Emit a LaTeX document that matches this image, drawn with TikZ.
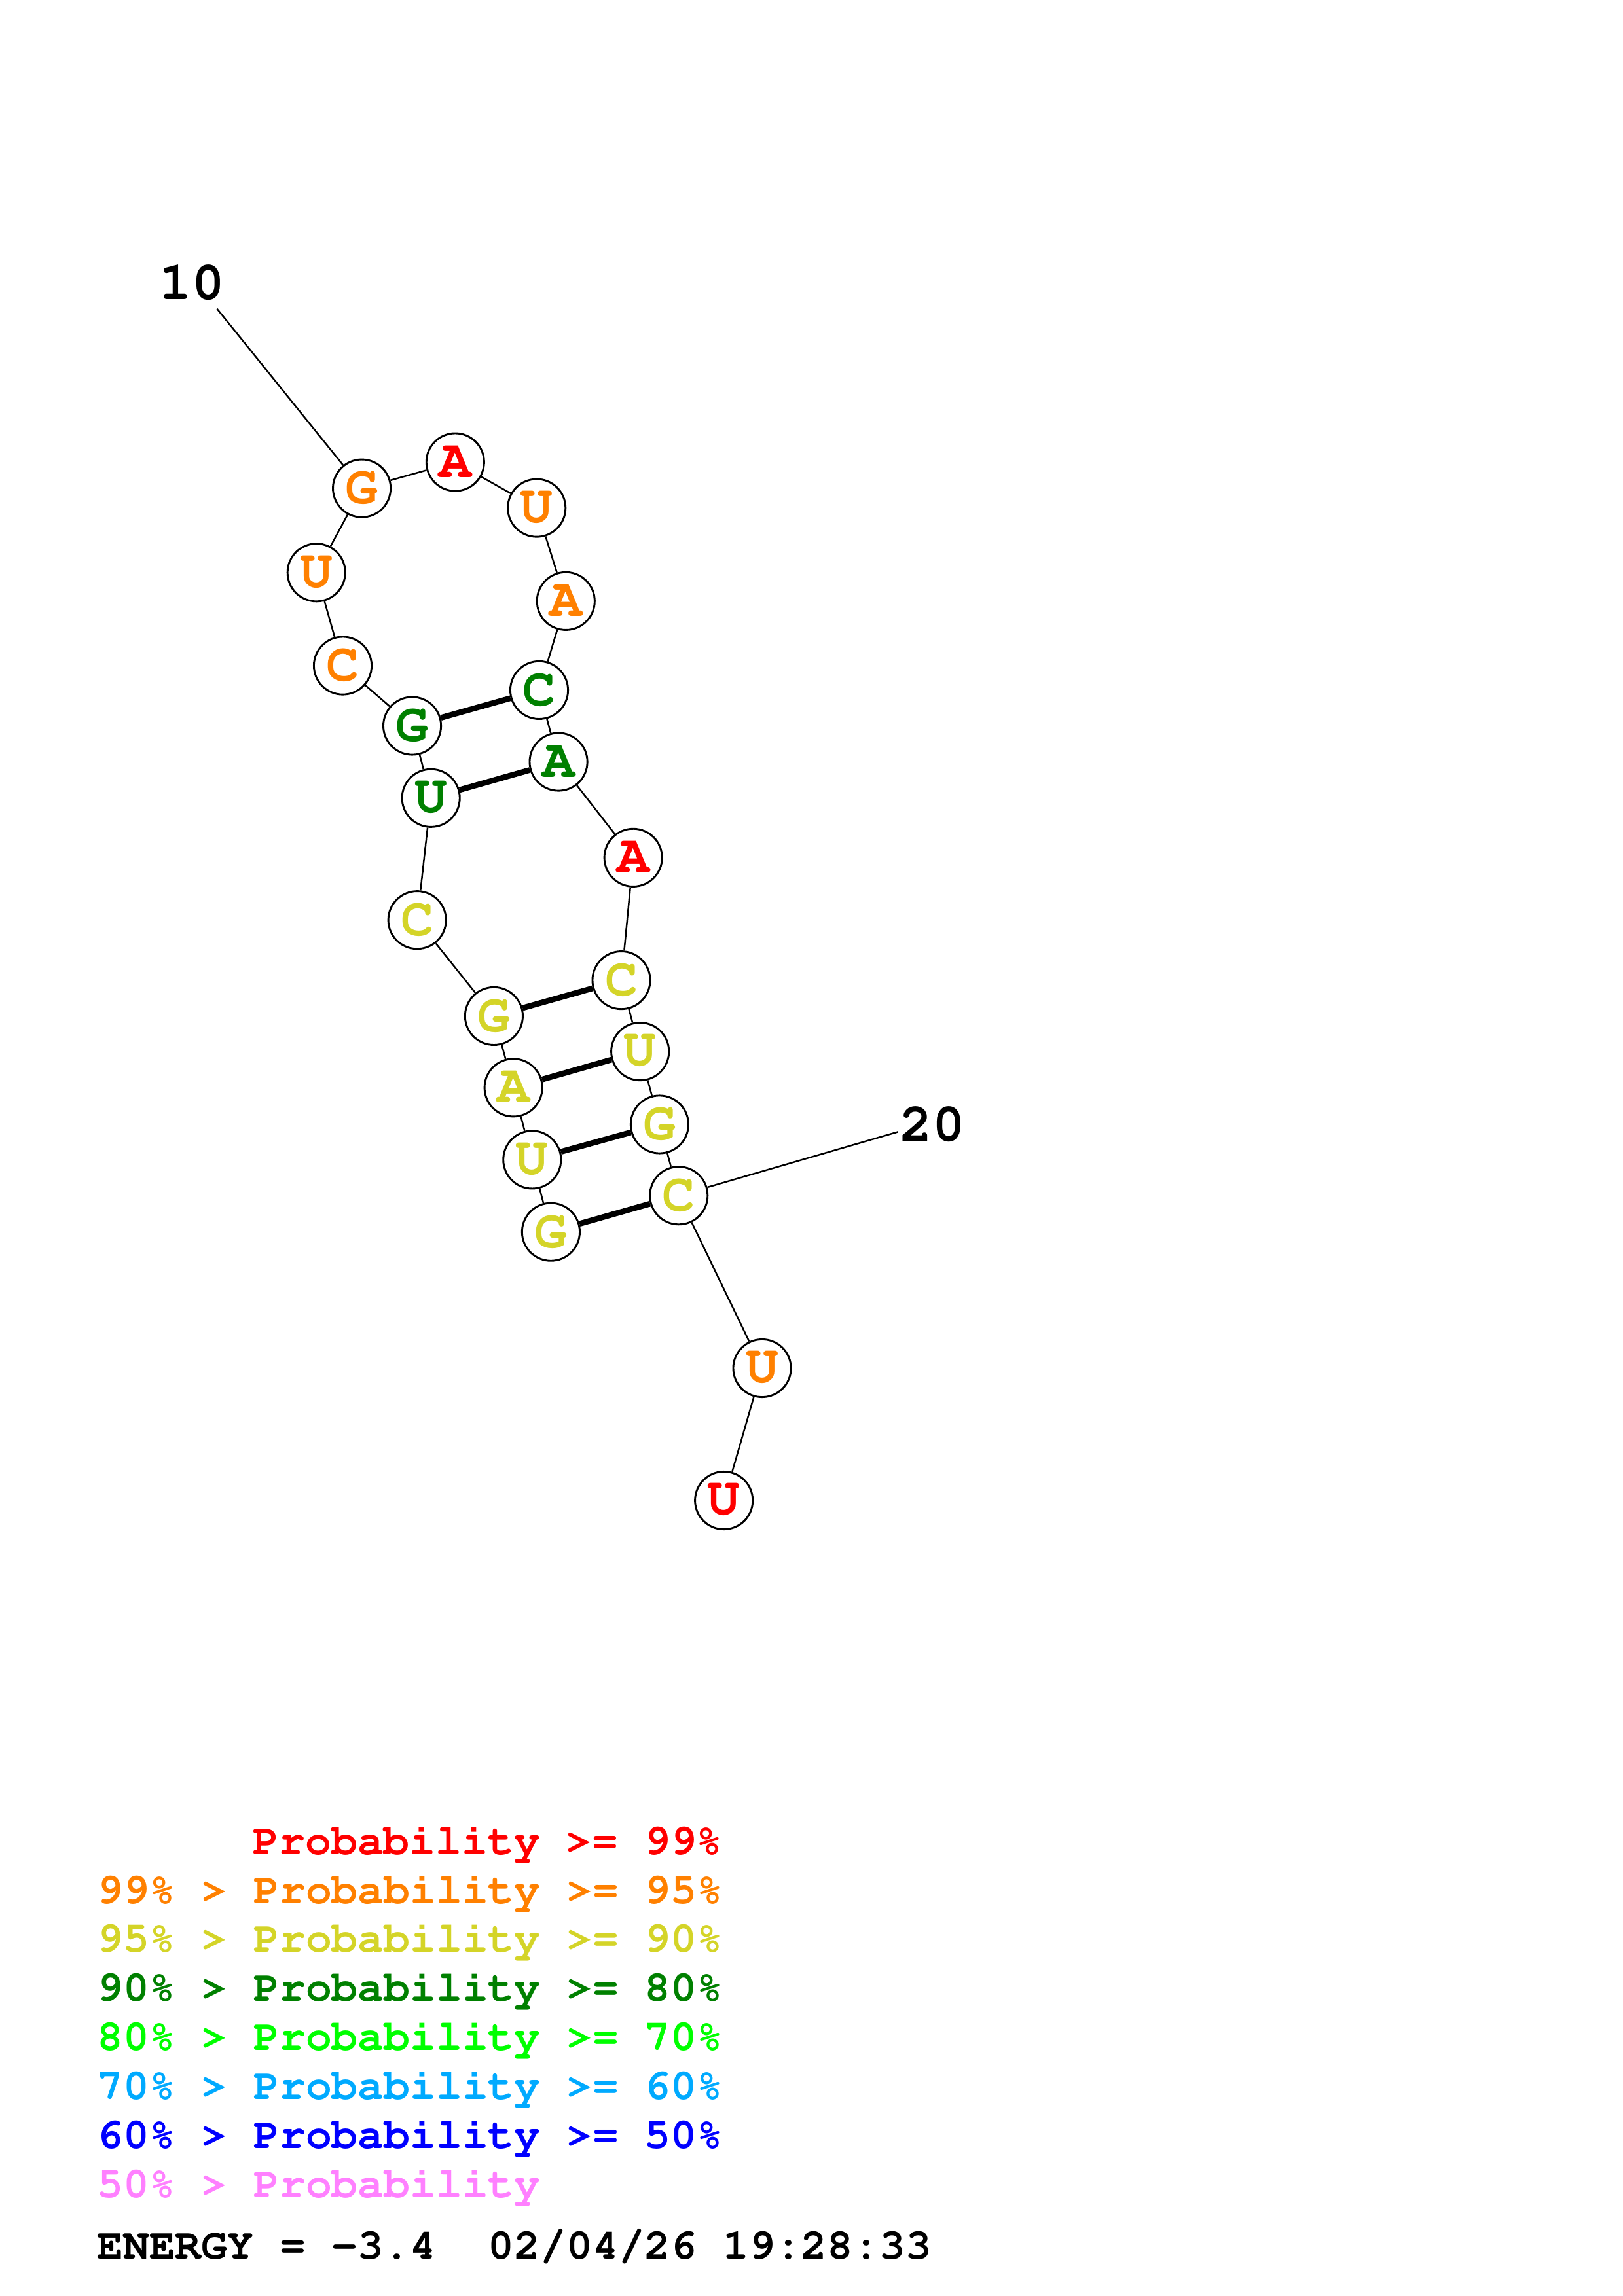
\documentclass[tikz,border=0pt]{standalone}
\usepackage{tikz}
\definecolor{prred}{RGB}{255,0,0}
\definecolor{prorange}{RGB}{255,128,0}
\definecolor{pryellow}{RGB}{212,212,40}
\definecolor{prdkgreen}{RGB}{0,128,0}
\definecolor{prgreen}{RGB}{0,255,0}
\definecolor{prblue}{RGB}{0,170,255}
\definecolor{prdkblue}{RGB}{0,0,255}
\definecolor{prpink}{RGB}{255,128,255}
\newcommand\nucfont{\fontencoding{T1}\fontfamily{pcr}\fontseries{b}\fontsize{20}{20}\selectfont}
\newcommand\legfont{\fontencoding{T1}\fontfamily{pcr}\fontseries{b}\fontsize{16}{16}\selectfont}

\begin{document}
\begin{tikzpicture}[x=0.18953mm,y=-0.18953mm,
  nuc/.style={circle,draw,line width=0.7pt,fill=white,minimum size=7.47mm,inner sep=0pt,font=\nucfont},
  backbone/.style={line width=0.6pt},
  pair/.style={line width=2.1pt},
  leg/.style={anchor=base west,inner sep=0pt,font=\legfont}]
\useasboundingbox (0,0) rectangle (1108,1568);
%nucleotides
\node[nuc,text=pryellow]  (n1)  at (376.1,841.3) {G};
\node[nuc,text=pryellow]  (n2)  at (363.3,792.0) {U};
\node[nuc,text=pryellow]  (n3)  at (350.5,742.8) {A};
\node[nuc,text=pryellow]  (n4)  at (337.2,693.9) {G};
\node[nuc,text=pryellow]  (n5)  at (284.8,628.3) {C};
\node[nuc,text=prdkgreen] (n6)  at (294.2,545.0) {U};
\node[nuc,text=prdkgreen] (n7)  at (281.4,495.7) {G};
\node[nuc,text=prorange]  (n8)  at (234.0,454.6) {C};
\node[nuc,text=prorange]  (n9)  at (216.0,391.0) {U};
\node[nuc,text=prorange]  (n10) at (247.0,333.5) {G};
\node[nuc,text=prred]     (n11) at (310.8,315.6) {A};
\node[nuc,text=prorange]  (n12) at (366.4,346.9) {U};
\node[nuc,text=prorange]  (n13) at (386.3,410.5) {A};
\node[nuc,text=prdkgreen] (n14) at (368.1,471.3) {C};
\node[nuc,text=prdkgreen] (n15) at (381.3,520.3) {A};
\node[nuc,text=prred]     (n16) at (432.3,585.7) {A};
\node[nuc,text=pryellow]  (n17) at (424.2,669.4) {C};
\node[nuc,text=pryellow]  (n18) at (437.0,718.1) {U};
\node[nuc,text=pryellow]  (n19) at (450.3,767.9) {G};
\node[nuc,text=pryellow]  (n20) at (463.4,816.5) {C};
\node[nuc,text=prorange]  (n21) at (520.3,934.4) {U};
\node[nuc,text=prred]     (n22) at (494.2,1024.7) {U};
%backbone
\draw[backbone] (n1)--(n2)--(n3)--(n4)--(n5)--(n6)--(n7)--(n8)--(n9)--(n10)--(n11);
\draw[backbone] (n11)--(n12)--(n13)--(n14)--(n15)--(n16)--(n17)--(n18)--(n19)--(n20)--(n21)--(n22);
%base pairs
\draw[pair] (n1)--(n20);
\draw[pair] (n2)--(n19);
\draw[pair] (n3)--(n18);
\draw[pair] (n4)--(n17);
\draw[pair] (n6)--(n15);
\draw[pair] (n7)--(n14);
%position marks
\coordinate (t10) at (148.2,210.9);
\coordinate (t20) at (613,773);
\draw[backbone] (n10)--(t10);
\draw[backbone] (n20)--(t20);
\node[font=\nucfont] (lab10) at (131,193) {10};
\node[font=\nucfont,anchor=west,inner sep=0pt] (lab20) at (614,768) {20};
%legend
\node[leg,text=prred]     (l1) at (172.5,1266.3) {Probability >= 99\%};
\node[leg,text=prorange]  (l2) at (66,1299.8) {99\% > Probability >= 95\%};
\node[leg,text=pryellow]  (l3) at (66,1333.3) {95\% > Probability >= 90\%};
\node[leg,text=prdkgreen] (l4) at (66,1366.7) {90\% > Probability >= 80\%};
\node[leg,text=prgreen]   (l5) at (66,1400.2) {80\% > Probability >= 70\%};
\node[leg,text=prblue]    (l6) at (66,1433.7) {70\% > Probability >= 60\%};
\node[leg,text=prdkblue]  (l7) at (66,1467.2) {60\% > Probability >= 50\%};
\node[leg,text=prpink]    (l8) at (66,1500.6) {50\% > Probability};
\node[leg] (energy) at (66,1542.7) {ENERGY = -3.4\ \ 02/04/26 19:28:33};
\end{tikzpicture}
\end{document}
